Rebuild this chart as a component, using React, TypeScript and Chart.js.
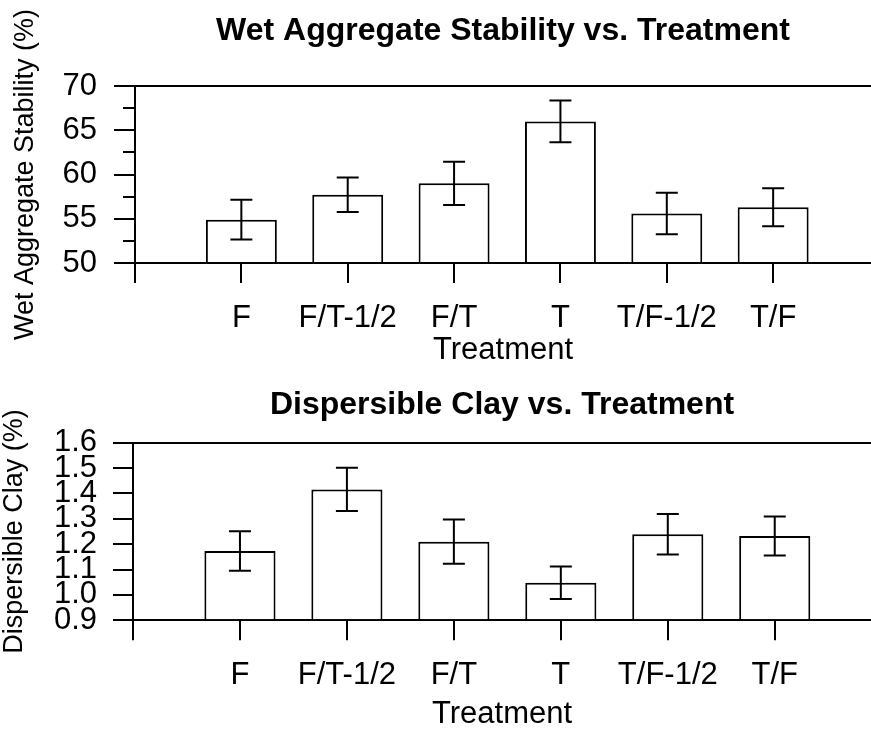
import React, { useEffect, useRef } from 'react';
import { Chart, registerables } from 'chart.js';

Chart.register(...registerables);

const treatments = ['F', 'F/T-1/2', 'F/T', 'T', 'T/F-1/2', 'T/F'];
const wetStabilityMean = [54.9, 57.7, 59.0, 66.0, 55.6, 56.3];
const wetStabilityErr = [2.25, 1.95, 2.45, 2.35, 2.35, 2.15];
const clayMean = [1.173, 1.416, 1.21, 1.048, 1.239, 1.232];
const clayErr = [0.078, 0.085, 0.087, 0.064, 0.08, 0.077];
const wetRange = [50, 70];
const clayRange = [0.9, 1.6];

const FONT = "'Liberation Sans', Arial, Helvetica, sans-serif";

function makeErrorBars(means: number[], errs: number[], cap: number) {
  return {
    id: 'errorBars',
    afterDatasetsDraw(chart: any) {
      const meta = chart.getDatasetMeta(0);
      const ys = chart.scales.y;
      const ctx = chart.ctx;
      ctx.save();
      ctx.strokeStyle = '#000';
      ctx.lineWidth = 2;
      meta.data.forEach((bar: any, i: number) => {
        const x = bar.x;
        const yt = ys.getPixelForValue(means[i] + errs[i]);
        const yb = ys.getPixelForValue(means[i] - errs[i]);
        ctx.beginPath();
        ctx.moveTo(x, yt);
        ctx.lineTo(x, yb);
        ctx.moveTo(x - cap / 2, yt);
        ctx.lineTo(x + cap / 2, yt);
        ctx.moveTo(x - cap / 2, yb);
        ctx.lineTo(x + cap / 2, yb);
        ctx.stroke();
      });
      ctx.restore();
    },
  };
}

function panelConfig(p: any) {
  const scales: any = {
    x: {
      type: 'linear',
      offset: false,
      min: 0,
      max: p.xMax,
      afterFit: (s: any) => {
        s.height = p.xAxisHeight;
      },
      ticks: {
        stepSize: 1,
        includeBounds: false,
        autoSkip: false,
        maxRotation: 0,
        minRotation: 0,
        color: '#000',
        padding: p.xTickPad,
        font: { family: FONT, size: 31 },
        callback: (v: number) => treatments[v - 1] ?? '',
      },
      grid: {
        offset: false,
        drawOnChartArea: false,
        tickLength: 20,
        tickColor: '#000',
        tickWidth: 2,
        lineWidth: 2,
      },
      border: { color: '#000', width: 2 },
      title: {
        display: true,
        text: 'Treatment',
        color: '#000',
        font: { family: FONT, size: 31, lineHeight: 1 },
        padding: { top: 0, bottom: p.xTitlePad },
      },
    },
    y: {
      type: 'linear',
      position: 'left',
      min: p.range[0],
      max: p.range[1],
      afterFit: (s: any) => {
        s.width = p.yAxisWidth;
      },
      ticks: {
        stepSize: p.step,
        autoSkip: false,
        color: '#000',
        padding: p.yTickPad,
        font: { family: FONT, size: 31 },
        callback: (v: number) => (p.decimals ? Number(v).toFixed(1) : String(Math.round(v))),
      },
      grid: {
        drawOnChartArea: true,
        color: (c: any) =>
          c.tick && Math.abs(c.tick.value - p.range[1]) < 1e-6 ? '#000' : 'rgba(0,0,0,0)',
        tickColor: '#000',
        lineWidth: 2,
        tickWidth: 2,
        tickLength: p.majorTick,
      },
      border: { color: '#000', width: 2 },
      title: {
        display: true,
        text: p.yTitle,
        color: '#000',
        font: { family: FONT, size: 27, lineHeight: p.yTitleLH },
        padding: { top: p.yTitlePad, bottom: 0 },
      },
    },
  };
  if (p.minorStep) {
    scales.yMinor = {
      type: 'linear',
      axis: 'y',
      position: 'left',
      weight: -1,
      min: p.range[0],
      max: p.range[1],
      afterFit: (s: any) => {
        s.width = 0;
      },
      ticks: { display: false, stepSize: p.minorStep, autoSkip: false },
      grid: {
        drawOnChartArea: false,
        tickLength: 12,
        tickColor: '#000',
        lineWidth: 2,
        tickWidth: 2,
      },
      border: { display: false },
    };
  }
  return {
    type: 'bar',
    data: {
      datasets: [
        {
          data: p.means.map((m: number, i: number) => ({ x: i + 1, y: m })),
          xAxisID: 'x',
          yAxisID: 'y',
          base: p.range[0],
          backgroundColor: '#fff',
          borderColor: '#000',
          borderWidth: 2,
          barPercentage: p.barPct,
          categoryPercentage: 1,
        },
      ],
    },
    options: {
      animation: false,
      responsive: false,
      events: [],
      layout: { padding: 0 },
      plugins: {
        legend: { display: false },
        tooltip: { enabled: false },
        title: {
          display: true,
          text: p.title,
          fullSize: false,
          color: '#000',
          font: { family: FONT, size: 32, weight: 'bold', lineHeight: 1.2 },
          padding: { top: p.titlePadTop, bottom: p.titlePadBottom },
        },
      },
      scales,
    },
    plugins: [makeErrorBars(p.means, p.errs, 22)],
  };
}

export default function App() {
  const topRef = useRef<HTMLCanvasElement | null>(null);
  const botRef = useRef<HTMLCanvasElement | null>(null);

  useEffect(() => {
    const top = new Chart(
      topRef.current as HTMLCanvasElement,
      panelConfig({
        title: 'Wet Aggregate Stability vs. Treatment',
        yTitle: 'Wet Aggregate Stability (%)',
        means: wetStabilityMean,
        errs: wetStabilityErr,
        range: wetRange,
        step: 5,
        minorStep: 2.5,
        decimals: false,
        xMax: 6.92,
        xAxisHeight: 109,
        yAxisWidth: 135,
        xTickPad: 17,
        xTitlePad: 6.5,
        yTickPad: 17,
        majorTick: 21,
        yTitlePad: 9,
        yTitleLH: 1.2,
        titlePadTop: 11.8,
        titlePadBottom: 35.8,
        barPct: 0.667,
      }) as any
    );
    const bot = new Chart(
      botRef.current as HTMLCanvasElement,
      panelConfig({
        title: 'Dispersible Clay vs. Treatment',
        yTitle: 'Dispersible Clay (%)',
        means: clayMean,
        errs: clayErr,
        range: clayRange,
        step: 0.1,
        minorStep: 0,
        decimals: true,
        xMax: 6.9,
        xAxisHeight: 109.7,
        yAxisWidth: 133,
        xTickPad: 17,
        xTitlePad: 0,
        yTickPad: 16,
        majorTick: 20,
        yTitlePad: 0,
        yTitleLH: 1.1,
        titlePadTop: 13.8,
        titlePadBottom: 18.5,
        barPct: 0.665,
      }) as any
    );
    return () => {
      top.destroy();
      bot.destroy();
    };
  }, []);

  return (
    <div
      style={{
        position: 'absolute',
        left: 0,
        top: 0,
        width: 871,
        height: 730,
        background: '#fff',
      }}
    >
      <canvas ref={topRef} width={871} height={372} style={{ display: 'block' }} />
      <canvas ref={botRef} width={871} height={358} style={{ display: 'block' }} />
    </div>
  );
}
